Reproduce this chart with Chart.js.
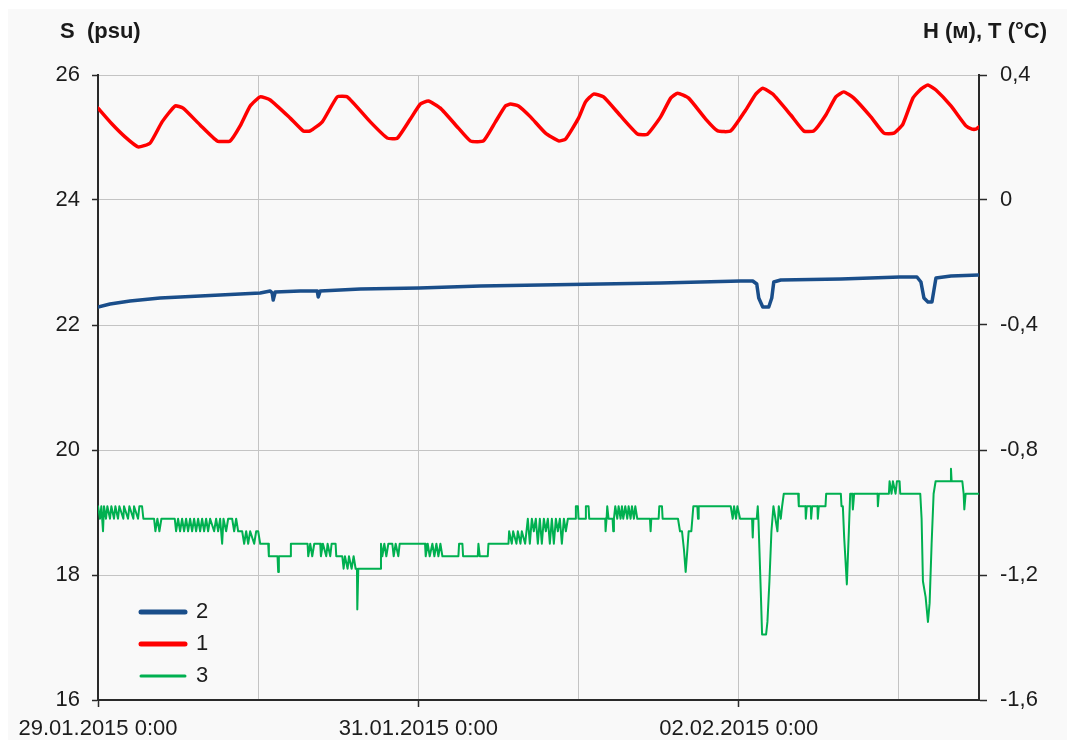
<!DOCTYPE html>
<html>
<head>
<meta charset="utf-8">
<script src="https://cdn.jsdelivr.net/npm/chart.js@4.4.1/dist/chart.umd.min.js"></script>
<style>
  html, body { margin: 0; padding: 0; background: #ffffff; }
  #wrap { position: relative; width: 1067px; height: 740px; overflow: hidden; }
  #panel { position: absolute; left: 8px; top: 9px; right: 0; bottom: 0; background: #f9f9f9; }
  #c { position: absolute; left: 0; top: 0; }
  .ttl { position: absolute; top: 20px; font-family: "Liberation Sans", Arial, sans-serif; font-weight: bold;
         font-size: 22px; line-height: 22px; color: #1a1a1a; white-space: pre; }
</style>
</head>
<body>
<div id="wrap">
  <div id="panel"></div>
  <canvas id="c" width="1067" height="740"></canvas>
  <div class="ttl" style="left:60px;">S  (psu)</div>
  <div class="ttl" style="right:20px;">H (м), T (°C)</div>
</div>
<script>
// ---- axis ticks / labels ----
const xGridHours = [0, 24, 48, 72, 96, 120];
const xTickHours = [0, 48, 96];
const xTickLabels = ['29.01.2015 0:00', '31.01.2015 0:00', '02.02.2015 0:00'];
const sTickValues = [16, 18, 20, 22, 24, 26];
const sTickLabels = ['16', '18', '20', '22', '24', '26'];
const rTickValues = [-1.6, -1.2, -0.8, -0.4, 0, 0.4];
const rTickLabels = ['-1,6', '-1,2', '-0,8', '-0,4', '0', '0,4'];

// ---- series: [hours since 29.01.2015 0:00, value] ----
// 1: H (m), right axis
const hPoints = [[0,0.294],[2.1,0.243],[4.05,0.202],[6,0.170],[7.8,0.182],[9.6,0.250],[11.55,0.301],[12.75,0.294],[15.3,0.240],[17.85,0.189],
[19.8,0.189],[21.3,0.237],[22.8,0.301],[24.3,0.330],[25.8,0.320],[28.8,0.262],[30.75,0.221],[31.8,0.221],[33.6,0.250],[35.85,0.330],
[37.35,0.330],[40.8,0.250],[43.35,0.198],[44.85,0.198],[46.8,0.259],[48.3,0.307],[49.5,0.317],[51.3,0.294],[54,0.230],[55.8,0.189],
[57.75,0.189],[59.55,0.250],[61.05,0.301],[61.8,0.307],[63,0.301],[64.8,0.266],[67.05,0.214],[69,0.189],[70.05,0.195],[72,0.262],
[73.05,0.314],[74.25,0.339],[75.75,0.330],[78.3,0.269],[80.85,0.211],[82.35,0.211],[84.3,0.266],[85.8,0.326],[86.85,0.342],[88.5,0.326],
[91.05,0.259],[92.85,0.221],[94.8,0.221],[97.05,0.288],[98.55,0.339],[99.6,0.358],[101.1,0.339],[103.8,0.272],[105.75,0.221],[107.25,0.221],
[109.05,0.272],[110.55,0.330],[111.75,0.346],[113.25,0.326],[115.8,0.266],[117.75,0.214],[119.25,0.214],[120.6,0.243],[122.1,0.326],[123.3,0.355],
[124.35,0.368],[125.55,0.352],[127.8,0.301],[130.05,0.237],[130.95,0.227],[131.55,0.227],[132,0.234]];

// 2: S (psu), left axis
const sPoints = [[0,22.288],[1.8,22.336],[4.8,22.384],[9.3,22.432],[15.3,22.464],[21.3,22.496],[24.3,22.512],[25.8,22.544],[26.1,22.512],[26.25,22.40],
[26.55,22.528],[30.3,22.544],[32.85,22.544],[33,22.448],[33.3,22.544],[39.3,22.576],[48.15,22.592],[57.3,22.624],[66.3,22.64],[75.3,22.656],
[84.3,22.672],[90.3,22.688],[96.3,22.704],[98.1,22.704],[98.7,22.656],[99,22.432],[99.6,22.288],[100.5,22.288],[100.95,22.432],[101.25,22.688],
[102.3,22.72],[111.3,22.736],[120.15,22.768],[122.7,22.768],[123.3,22.688],[123.75,22.432],[124.35,22.368],[124.95,22.368],[125.25,22.56],[125.55,22.752],
[127.8,22.784],[132,22.8]];

// 3: T (°C), right axis
const tPoints = [[0,-0.98],[0.3,-1.02],[0.5,-0.98],[0.75,-1.06],[0.9,-0.98],[1.2,-1.02],[1.4,-0.98],[1.8,-1.02],[2.0,-0.98],[2.4,-1.02],[2.6,-0.98],[3.0,-1.02],[3.2,-0.98],[3.8,-1.02],[3.9,-0.98],[4.5,-1.02],[4.7,-0.98],[5.3,-1.02],[5.4,-0.98],[6.0,-1.02],[6.2,-0.98],[6.6,-0.98],[6.8,-1.02],
[8.4,-1.02],[8.6,-1.06],[8.9,-1.02],[9.2,-1.06],[9.5,-1.02],[11.5,-1.02],[11.7,-1.06],[12.0,-1.02],[12.3,-1.06],[12.6,-1.02],[12.9,-1.06],[13.2,-1.02],[13.5,-1.06],[13.8,-1.02],[14.1,-1.06],[14.4,-1.02],[14.7,-1.06],[15.0,-1.02],[15.3,-1.06],[15.6,-1.02],[15.9,-1.06],[16.2,-1.02],[16.5,-1.06],[16.8,-1.02],[17.4,-1.06],[17.7,-1.02],[18.0,-1.06],[18.3,-1.02],[18.6,-1.10],[18.8,-1.02],[19.2,-1.06],[19.5,-1.02],[20.1,-1.02],[20.4,-1.06],[20.7,-1.02],[21.0,-1.06],
[21.6,-1.06],[21.9,-1.10],[22.2,-1.06],[22.5,-1.10],[22.8,-1.06],[23.4,-1.10],[23.7,-1.06],[24.0,-1.06],[24.3,-1.10],
[25.5,-1.10],[25.6,-1.14],
[26.9,-1.14],[27.0,-1.19],[27.1,-1.14],[28.8,-1.14],[28.9,-1.10],
[31.4,-1.10],[31.5,-1.14],[31.8,-1.10],[32.1,-1.14],[32.4,-1.10],[33.3,-1.10],[33.4,-1.14],[33.7,-1.10],[34.2,-1.14],[34.4,-1.10],[34.8,-1.14],[35.0,-1.10],[35.6,-1.10],[35.7,-1.14],
[36.6,-1.14],[36.8,-1.18],[37.0,-1.14],[37.4,-1.18],[37.6,-1.14],[38.0,-1.18],[38.3,-1.14],[38.6,-1.18],[38.8,-1.18],[38.85,-1.31],[39.0,-1.18],
[42.3,-1.18],[42.4,-1.10],
[42.6,-1.14],[42.9,-1.10],[43.2,-1.14],[43.5,-1.10],[44.1,-1.10],[44.3,-1.14],[44.6,-1.10],[45.0,-1.14],[45.2,-1.10],
[49.0,-1.10],[49.1,-1.14],
[49.4,-1.10],[49.7,-1.14],[50.1,-1.10],[50.4,-1.14],[50.7,-1.10],[51.0,-1.14],[51.3,-1.10],[51.6,-1.14],[54.0,-1.14],[54.1,-1.10],[54.6,-1.10],[54.7,-1.14],[56.9,-1.14],[57.0,-1.10],[57.2,-1.14],[58.4,-1.14],[58.5,-1.10],
[61.5,-1.10],[61.6,-1.06],
[62.0,-1.10],[62.2,-1.06],[62.7,-1.10],[62.9,-1.06],[63.3,-1.10],[63.5,-1.06],[64.0,-1.10],[64.2,-1.06],
[64.4,-1.02],[64.7,-1.10],[65.0,-1.02],[65.3,-1.06],[65.6,-1.02],[65.9,-1.10],[66.2,-1.02],[66.5,-1.10],[66.8,-1.02],[67.1,-1.06],[67.4,-1.02],[67.7,-1.10],[68.0,-1.02],[68.3,-1.10],[68.6,-1.02],[68.9,-1.06],[69.2,-1.02],[69.5,-1.10],[69.8,-1.02],[70.1,-1.06],[70.4,-1.02],
[71.5,-1.02],[71.6,-0.98],[71.9,-0.98],[72.0,-1.02],[73.0,-1.02],[73.1,-0.98],[73.5,-0.98],[73.6,-1.02],[76.0,-1.02],[76.05,-1.06],[76.2,-1.02],[76.3,-0.98],[76.5,-1.02],[77.1,-1.02],[77.2,-1.06],[77.3,-1.02],[77.5,-0.98],[77.8,-1.02],[78.0,-0.98],[78.3,-1.02],[78.5,-0.98],[78.7,-1.02],[79.0,-0.98],[79.3,-1.02],[79.5,-0.98],[79.8,-1.02],[80.0,-0.98],[80.3,-1.02],[80.5,-0.98],[80.8,-1.02],[82.7,-1.02],[82.8,-1.06],[82.9,-1.02],[84.0,-1.02],[84.1,-0.98],[84.5,-0.98],[84.6,-1.02],
[86.9,-1.02],[87.2,-1.06],[87.5,-1.06],[87.8,-1.12],[88.05,-1.19],[88.3,-1.12],[88.5,-1.06],[88.9,-1.06],[89.2,-0.98],[89.8,-0.98],[89.9,-1.02],[90.0,-0.98],
[94.8,-0.98],
[95.1,-1.02],[95.3,-0.98],[95.6,-1.02],[95.8,-0.98],[96.2,-1.02],[96.7,-1.02],
[98.0,-1.02],[98.1,-1.08],[98.2,-1.02],[98.7,-1.02],[98.85,-0.98],[98.95,-1.02],[99.3,-1.25],[99.5,-1.39],[100.1,-1.39],[100.3,-1.35],[100.6,-1.22],[100.9,-1.06],
[101.2,-0.98],[101.5,-1.02],[101.8,-1.06],[102.0,-0.98],[102.3,-1.02],[102.5,-0.98],[102.75,-0.94],
[104.9,-0.94],[105.0,-0.98],
[106.0,-0.98],[106.05,-1.02],[106.2,-0.98],[106.8,-0.98],[106.85,-1.02],[107.0,-0.98],[107.8,-0.98],[107.85,-1.02],[108.0,-0.98],[109.0,-0.98],[109.1,-0.94],
[111.3,-0.94],[111.4,-0.98],[111.6,-0.98],[111.8,-1.08],[112.2,-1.23],[112.5,-1.06],[112.7,-0.94],[113.0,-0.94],[113.1,-0.99],[113.3,-0.94],
[116.8,-0.94],[116.85,-0.98],[117.0,-0.94],[118.5,-0.94],[118.6,-0.90],
[118.9,-0.94],[119.1,-0.90],[119.5,-0.94],[119.7,-0.90],[120.1,-0.90],[120.2,-0.94],
[123.2,-0.94],[123.4,-1.02],[123.6,-1.22],[124.0,-1.27],[124.35,-1.35],[124.6,-1.29],[124.9,-1.10],[125.2,-0.94],[125.5,-0.90],
[127.7,-0.90],[127.8,-0.86],[127.9,-0.90],[129.5,-0.90],
[129.7,-0.94],[129.8,-0.99],[130.0,-0.94],[132,-0.94]];

const seriesLabels = ['2', '1', '3'];
const seriesColors = ['#1a4e8a', '#ff0000', '#00b050'];

const toXY = pts => pts.map(p => ({ x: p[0], y: p[1] }));

Chart.defaults.font.family = '"Liberation Sans", Arial, sans-serif';
Chart.defaults.font.size = 22;
Chart.defaults.color = '#1c1c1c';

const AXIS = '#2a2a2a';
const GRID = '#c4c4c4';

// place the legend block in the lower-left corner of the plot area
const legendShift = {
  id: 'legendShift',
  afterLayout(chart) {
    const l = chart.legend;
    if (!l) return;
    const ca = chart.chartArea;
    const h = l.bottom - l.top;
    l.left = ca.left + 33;
    l.right = l.left + l.width;
    l.bottom = ca.bottom - 3;
    l.top = l.bottom - h;
  }
};

new Chart(document.getElementById('c'), {
  type: 'line',
  data: {
    datasets: [
      { label: seriesLabels[0], data: toXY(sPoints), yAxisID: 'y', borderColor: seriesColors[0], backgroundColor: seriesColors[0],
        borderWidth: 3.5, pointRadius: 0, tension: 0, borderCapStyle: 'round', borderJoinStyle: 'round' },
      { label: seriesLabels[1], data: toXY(hPoints), yAxisID: 'y2', borderColor: seriesColors[1], backgroundColor: seriesColors[1],
        borderWidth: 3.5, pointRadius: 0, tension: 0.15, borderCapStyle: 'round', borderJoinStyle: 'round' },
      { label: seriesLabels[2], data: toXY(tPoints), yAxisID: 'y2', borderColor: seriesColors[2], backgroundColor: seriesColors[2],
        borderWidth: 2, pointRadius: 0, tension: 0, borderCapStyle: 'round', borderJoinStyle: 'round' }
    ]
  },
  options: {
    responsive: false,
    animation: false,
    devicePixelRatio: 1,
    layout: { padding: { top: 75, left: 0, right: 0, bottom: 0 } },
    plugins: {
      tooltip: { enabled: false },
      title: { display: false },
      legend: {
        position: 'chartArea',
        align: 'end',
        labels: {
          usePointStyle: true,
          pointStyle: 'line',
          pointStyleWidth: 44,
          padding: 10,
          font: { size: 22 },
          color: '#1c1c1c',
          generateLabels(chart) {
            const items = Chart.defaults.plugins.legend.labels.generateLabels(chart);
            items.forEach((it, i) => { it.lineWidth = (i === 2) ? 3 : 5; it.lineCap = 'round'; });
            return items;
          }
        }
      }
    },
    scales: {
      x: {
        type: 'linear',
        min: 0, max: 132,
        afterBuildTicks(scale) { scale.ticks = xGridHours.map(v => ({ value: v })); },
        afterFit(scale) { scale.height = 40; },
        ticks: {
          autoSkip: false, maxRotation: 0, minRotation: 0, padding: 9,
          callback(value) { const i = xTickHours.indexOf(value); return i >= 0 ? xTickLabels[i] : ''; }
        },
        grid: {
          color: GRID, lineWidth: 1, tickLength: 7, tickWidth: 1.5,
          tickColor: ctx => (ctx.tick && xTickHours.indexOf(ctx.tick.value) >= 0) ? AXIS : 'rgba(0,0,0,0)'
        },
        border: { color: AXIS, width: 2 }
      },
      y: {
        type: 'linear', position: 'left',
        min: 16, max: 26,
        afterBuildTicks(scale) { scale.ticks = sTickValues.map(v => ({ value: v })); },
        afterFit(scale) { scale.width = 98; },
        ticks: { padding: 12, callback(value, index) { return sTickLabels[index]; } },
        grid: { color: GRID, lineWidth: 1, tickLength: 6, tickColor: AXIS, tickWidth: 1.5 },
        border: { color: AXIS, width: 2 }
      },
      y2: {
        type: 'linear', position: 'right',
        min: -1.6, max: 0.4,
        afterBuildTicks(scale) { scale.ticks = rTickValues.map(v => ({ value: v })); },
        afterFit(scale) { scale.width = 88; },
        ticks: { padding: 13, callback(value, index) { return rTickLabels[index]; } },
        grid: { drawOnChartArea: false, tickLength: 8, tickColor: AXIS, tickWidth: 1.5 },
        border: { color: AXIS, width: 2 }
      }
    }
  },
  plugins: [legendShift]
});
</script>
</body>
</html>
